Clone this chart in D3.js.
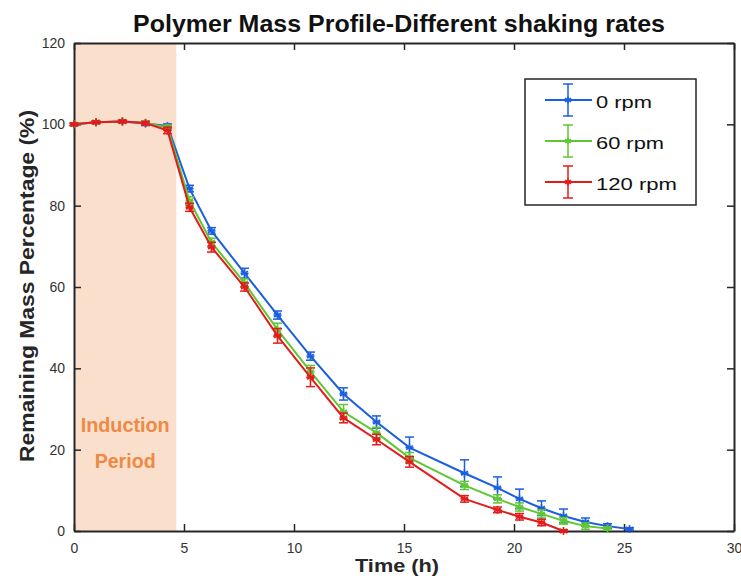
<!DOCTYPE html>
<html><head><meta charset="utf-8">
<script src="https://cdn.jsdelivr.net/npm/d3@7"></script>
<style>body{margin:0;background:#fff;font-family:"Liberation Sans",Arial,sans-serif;}</style>
</head><body>
<svg id="c" width="741" height="581"></svg>
<script>
const title = "Polymer Mass Profile-Different shaking rates";
const xTicks = [0,5,10,15,20,25,30];
const yTicks = [0,20,40,60,80,100,120];
const timeH = [0, 1, 2.2, 3.25, 4.25, 5.25, 6.25, 7.75, 9.25, 10.75, 12.25, 13.75, 15.25, 17.75, 19.25, 20.25, 21.25, 22.25, 23.25, 24.25, 25.25];
const seriesNames = ["0 rpm", "60 rpm", "120 rpm"];
const seriesColors = ["#1a5fe0", "#5fc732", "#e41b1b"];
const rpm0 = [100, 100.5, 100.7, 100.2, 99.6, 84.2, 73.8, 63.4, 53.1, 43, 33.7, 26.8, 20.5, 14.2, 10.6, 7.9, 5.6, 3.7, 2.2, 1.2, 0.5];
const rpm0Err = [0.3, 0.3, 0.3, 0.5, 0.5, 0.8, 0.8, 1.2, 1, 1, 1.5, 1.5, 2.6, 3.3, 2.7, 2.4, 1.8, 1.7, 1, 0.6, 0.3];
const rpm60 = [100, 100.5, 100.7, 100.4, 99.2, 81.2, 71, 61, 49.5, 39.2, 29.3, 24.2, 18, 11.2, 7.9, 5.9, 4.2, 2.5, 1.2, 0.6];
const rpm60Err = [0.3, 0.3, 0.3, 0.4, 0.6, 1, 1, 1, 1.6, 1.5, 1.8, 1.3, 1.3, 1, 1, 1, 1, 0.8, 0.8, 0.4];
const rpm120 = [100, 100.5, 100.7, 100.3, 98.5, 79.6, 69.8, 60, 48, 37.8, 27.8, 22.5, 17, 7.9, 5.2, 3.5, 2.1, 0];
const rpm120Err = [0.3, 0.3, 0.3, 0.4, 0.8, 1, 1.2, 1, 1.8, 2.3, 1.2, 1.3, 1.3, 0.8, 0.7, 0.8, 0.8, 0.3];
const inductionEnd = 4.65;

const svg = d3.select("#c");
const L = 74, R = 734, T = 43, B = 531;
const x = d3.scaleLinear().domain([0,30]).range([L,R]);
const y = d3.scaleLinear().domain([0,120]).range([B,T]);
const axisColor = "#262626";

// shaded induction period
svg.append("rect").attr("x", x(0)).attr("y", y(120)).attr("width", x(inductionEnd)-x(0)).attr("height", y(0)-y(120)).attr("fill", "#fbdfcd");
svg.append("text").attr("x", x(inductionEnd/2)).attr("y", 432).attr("text-anchor","middle")
  .attr("fill","#ed8a45").attr("font-weight","bold").attr("font-size", 20).attr("textLength", 89).attr("lengthAdjust","spacingAndGlyphs").text("Induction");
svg.append("text").attr("x", x(inductionEnd/2)).attr("y", 468).attr("text-anchor","middle")
  .attr("fill","#ed8a45").attr("font-weight","bold").attr("font-size", 20).attr("textLength", 61).attr("lengthAdjust","spacingAndGlyphs").text("Period");

// axes
const tickFmt = d => d;
const ax = [
  {a: d3.axisBottom(x).tickValues(xTicks).tickSize(-7).tickPadding(12), t: `translate(0,${B})`, lab: true},
  {a: d3.axisTop(x).tickValues(xTicks).tickSize(-7), t: `translate(0,${T})`, lab: false},
  {a: d3.axisLeft(y).tickValues(yTicks).tickSize(-7).tickPadding(9), t: `translate(${L},0)`, lab: true},
  {a: d3.axisRight(y).tickValues(yTicks).tickSize(-7), t: `translate(${R},0)`, lab: false}
];
ax.forEach(o => {
  const g = svg.append("g").attr("transform", o.t).call(o.a.tickFormat(o.lab ? tickFmt : "").tickSizeOuter(0));
  g.select(".domain").attr("stroke", axisColor).attr("stroke-width", 2);
  g.selectAll(".tick line").attr("stroke", axisColor).attr("stroke-width", 1.5);
  g.selectAll(".tick text").attr("fill", "#333").attr("font-size", 14).attr("font-family", "Liberation Sans, Arial, sans-serif");
});

// series
const seriesData = [
  {v: rpm0, e: rpm0Err},
  {v: rpm60, e: rpm60Err},
  {v: rpm120, e: rpm120Err}
];
function star(g, cx, cy, r, color) {
  for (let k = 0; k < 3; k++) {
    const ang = Math.PI/2 + k*Math.PI/3;
    g.append("line").attr("x1", cx - r*Math.cos(ang)).attr("y1", cy - r*Math.sin(ang))
      .attr("x2", cx + r*Math.cos(ang)).attr("y2", cy + r*Math.sin(ang))
      .attr("stroke", color).attr("stroke-width", 1.6);
  }
  g.append("line").attr("x1", cx-r).attr("x2", cx+r).attr("y1", cy).attr("y2", cy).attr("stroke", color).attr("stroke-width", 1.6);
}
const line = d3.line().x(d => x(d[0])).y(d => y(d[1]));
seriesData.forEach((s, i) => {
  const col = seriesColors[i];
  const pts = s.v.map((v, j) => [timeH[j], v, s.e[j]]);
  const g = svg.append("g");
  g.append("path").datum(pts).attr("d", line).attr("fill","none").attr("stroke", col).attr("stroke-width", 2);
  pts.forEach(p => {
    const cx = x(p[0]), y1 = y(p[1]-p[2]), y2 = y(p[1]+p[2]);
    g.append("line").attr("x1", cx).attr("x2", cx).attr("y1", y1).attr("y2", y2).attr("stroke", col).attr("stroke-width", 1.5);
    [y1, y2].forEach(yy => g.append("line").attr("x1", cx-4.5).attr("x2", cx+4.5).attr("y1", yy).attr("y2", yy).attr("stroke", col).attr("stroke-width", 1.5));
    star(g, cx, y(p[1]), 4, col);
  });
});

// legend
const legendW = [56, 68, 81];
const lg = svg.append("g");
lg.append("rect").attr("x", 525).attr("y", 79).attr("width", 171).attr("height", 126).attr("fill", "#fff").attr("stroke", axisColor).attr("stroke-width", 1.5);
seriesNames.forEach((n, i) => {
  const cy = 100 + i*41, col = seriesColors[i];
  lg.append("line").attr("x1", 545).attr("x2", 592).attr("y1", cy).attr("y2", cy).attr("stroke", col).attr("stroke-width", 2);
  lg.append("line").attr("x1", 568).attr("x2", 568).attr("y1", cy-16).attr("y2", cy+16).attr("stroke", col).attr("stroke-width", 1.5);
  [cy-16, cy+16].forEach(yy => lg.append("line").attr("x1", 563).attr("x2", 573).attr("y1", yy).attr("y2", yy).attr("stroke", col).attr("stroke-width", 1.5));
  star(lg, 568, cy, 3.5, col);
  lg.append("text").attr("x", 596).attr("y", cy+8).attr("font-size", 17).attr("fill", "#111")
    .attr("textLength", legendW[i]).attr("lengthAdjust","spacingAndGlyphs").text(n);
});

// title and labels
svg.append("text").attr("x", 399).attr("y", 32).attr("text-anchor","middle").attr("font-weight","bold")
  .attr("font-size", 24).attr("fill","#111").attr("textLength", 532).attr("lengthAdjust","spacingAndGlyphs").text(title);
svg.append("text").attr("x", 397).attr("y", 572).attr("text-anchor","middle").attr("font-weight","bold")
  .attr("font-size", 18).attr("fill","#262626").attr("textLength", 84).attr("lengthAdjust","spacingAndGlyphs").text("Time (h)");
svg.append("text").attr("transform", "translate(34,286) rotate(-90)").attr("text-anchor","middle").attr("font-weight","bold")
  .attr("font-size", 20).attr("fill","#262626").attr("textLength", 352).attr("lengthAdjust","spacingAndGlyphs").text("Remaining Mass Percentage (%)");
</script>
</body></html>
